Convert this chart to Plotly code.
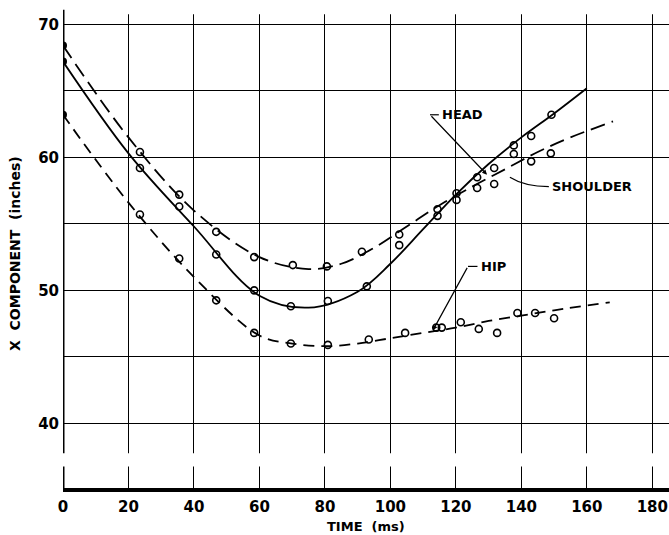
import plotly.graph_objects as go

# ---- data ----
# measured points (open circles); first point of each is the filled one at t=0
head_t = [0, 23.5, 35.5, 46.8, 58.4, 69.6, 80.9, 92.8, 102.7, 114.4, 120.2, 126.5, 131.7, 137.7, 143.0, 149.2]
head_x = [67.2, 59.2, 56.3, 52.7, 50.0, 48.8, 49.2, 50.3, 53.4, 55.6, 57.3, 58.5, 59.2, 60.9, 61.6, 63.2]

shoulder_t = [0, 23.5, 35.5, 46.8, 58.4, 70.2, 80.6, 91.3, 102.7, 114.4, 120.2, 126.5, 131.7, 137.7, 143.0, 149.0]
shoulder_x = [68.4, 60.4, 57.2, 54.4, 52.5, 51.9, 51.8, 52.9, 54.2, 56.1, 56.8, 57.7, 58.0, 60.25, 59.7, 60.3]

hip_t = [0, 23.5, 35.5, 46.8, 58.4, 69.6, 80.9, 93.4, 104.5, 114.0, 115.7, 121.5, 127.0, 132.6, 138.8, 144.2, 150.0]
hip_x = [63.2, 55.7, 52.4, 49.25, 46.8, 46.0, 45.9, 46.3, 46.8, 47.2, 47.2, 47.6, 47.1, 46.8, 48.3, 48.3, 47.9]

# faired curves
head_curve_t = [0, 20, 40, 60, 75, 90, 100, 110, 120, 130, 140, 150, 160]
head_curve_x = [67.2, 60.3, 54.8, 49.6, 48.7, 49.9, 52.0, 54.6, 57.2, 59.5, 61.5, 63.3, 65.2]

shoulder_curve_t = [0, 20, 40, 60, 75, 85, 95, 105, 115, 125, 135, 145, 155, 168]
shoulder_curve_x = [68.4, 61.5, 56.0, 52.5, 51.6, 52.0, 53.2, 54.8, 56.4, 57.8, 59.1, 60.4, 61.5, 62.7]

hip_curve_t = [0, 20, 40, 60, 70, 80, 90, 100, 110, 120, 130, 140, 150, 167]
hip_curve_x = [63.2, 56.6, 51.0, 46.6, 46.0, 45.8, 46.0, 46.4, 46.8, 47.2, 47.7, 48.1, 48.5, 49.1]

x_ticks = [0, 20, 40, 60, 80, 100, 120, 140, 160, 180]
x_tick_text = ["0", "20", "40", "60", "80", "100", "120", "140", "160", "180"]
y_ticks = [40, 45, 50, 55, 60, 65, 70]
y_tick_text = ["40", "", "50", "", "60", "", "70"]

FONT = "DejaVu Sans"
XMAX = 185.1
YMIN, YMAX = 35.14, 71.83
BREAK_LO, BREAK_HI = 36.75, 37.75

fig = go.Figure()

def curve(t, x, dash):
    fig.add_trace(go.Scatter(x=t, y=x, mode="lines",
                             line=dict(color="black", width=1.8, dash=dash, shape="spline", smoothing=1.0),
                             hoverinfo="skip", showlegend=False))

def points(t, x):
    fig.add_trace(go.Scatter(x=t[1:], y=x[1:], mode="markers",
                             marker=dict(symbol="circle-open", size=7, color="black", line=dict(width=1.6)),
                             showlegend=False))
    fig.add_trace(go.Scatter(x=t[:1], y=x[:1], mode="markers",
                             marker=dict(symbol="circle", size=8, color="black"), showlegend=False))

curve(head_curve_t, head_curve_x, "solid")
curve(shoulder_curve_t, shoulder_curve_x, "15px,7px")
curve(hip_curve_t, hip_curve_x, "11px,7px")
points(head_t, head_x)
points(shoulder_t, shoulder_x)
points(hip_t, hip_x)

shapes = [
    # white band making the axis/grid break
    dict(type="rect", xref="paper", yref="y", x0=-0.02, x1=1, y0=BREAK_LO, y1=BREAK_HI,
         fillcolor="white", line=dict(width=0), layer="above"),
    # trim vertical grid above 70.7
    dict(type="rect", xref="paper", yref="y", x0=0.006, x1=1, y0=70.75, y1=YMAX,
         fillcolor="white", line=dict(width=0), layer="above"),
    # y axis line (broken near the bottom)
    dict(type="line", xref="x", yref="y", x0=0, x1=0, y0=YMIN, y1=BREAK_LO, line=dict(color="black", width=3), layer="above"),
    dict(type="line", xref="x", yref="y", x0=0, x1=0, y0=BREAK_HI, y1=71.1, line=dict(color="black", width=3), layer="above"),
    # label hooks
    dict(type="line", xref="x", yref="y", x0=112.1, x1=114.8, y0=63.2, y1=63.2, line=dict(color="black", width=1.2)),
    dict(type="line", xref="x", yref="y", x0=123.7, x1=126.6, y0=51.8, y1=51.8, line=dict(color="black", width=1.2)),
    dict(type="path", xref="x", yref="y", path="M 148.4 57.8 Q 141 57.8 136.5 58.5", line=dict(color="black", width=1.2)),
]

lab_font = dict(family=FONT, size=13, color="black", weight="bold")
annotations = [
    dict(x=129.5, y=58.7, ax=112.1, ay=63.2, axref="x", ayref="y", xref="x", yref="y", text="",
         showarrow=True, arrowhead=2, arrowsize=0.8, arrowwidth=1.2, arrowcolor="black"),
    dict(x=113.0, y=47.0, ax=123.7, ay=51.8, axref="x", ayref="y", xref="x", yref="y", text="",
         showarrow=True, arrowhead=2, arrowsize=0.8, arrowwidth=1.2, arrowcolor="black"),
    dict(x=115.0, y=63.2, xref="x", yref="y", text="HEAD", showarrow=False, xanchor="left", yanchor="middle", font=lab_font),
    dict(x=148.6, y=57.8, xref="x", yref="y", text="SHOULDER", showarrow=False, xanchor="left", yanchor="middle", font=lab_font),
    dict(x=127.0, y=51.8, xref="x", yref="y", text="HIP", showarrow=False, xanchor="left", yanchor="middle", font=lab_font),
    dict(x=(366 - 63) / 606, y=-(526 - 488) / 488, xref="paper", yref="paper", text="TIME  (ms)", showarrow=False,
         xanchor="center", yanchor="middle", borderpad=0,
         font=dict(family=FONT, size=13, color="black", weight="bold")),
    dict(x=-(63 - 15) / 606, y=1 - 254 / 488, xref="paper", yref="paper", text="X  COMPONENT  (inches)", showarrow=False,
         textangle=-90, xanchor="center", yanchor="middle", font=dict(family=FONT, size=14, color="black", weight="bold")),
]

fig.update_layout(
    width=669, height=535,
    margin=dict(l=63, r=0, t=0, b=47),
    paper_bgcolor="white", plot_bgcolor="white",
    showlegend=False,
    shapes=shapes, annotations=annotations,
    xaxis=dict(range=[0, XMAX], tickvals=x_ticks, ticktext=x_tick_text, showgrid=True, gridcolor="black", gridwidth=1.3,
               zeroline=False, showline=True, linecolor="black", linewidth=3.5, ticks="", ticklabelstandoff=2,
               tickfont=dict(family=FONT, size=15, color="black", weight="bold")),
    yaxis=dict(range=[YMIN, YMAX], tickvals=y_ticks, ticktext=y_tick_text, showgrid=True, gridcolor="black", gridwidth=1.3,
               zeroline=False, showline=False, ticks="", ticklabelstandoff=3,
               tickfont=dict(family=FONT, size=15, color="black", weight="bold")),
)

fig.write_html("out.html")
